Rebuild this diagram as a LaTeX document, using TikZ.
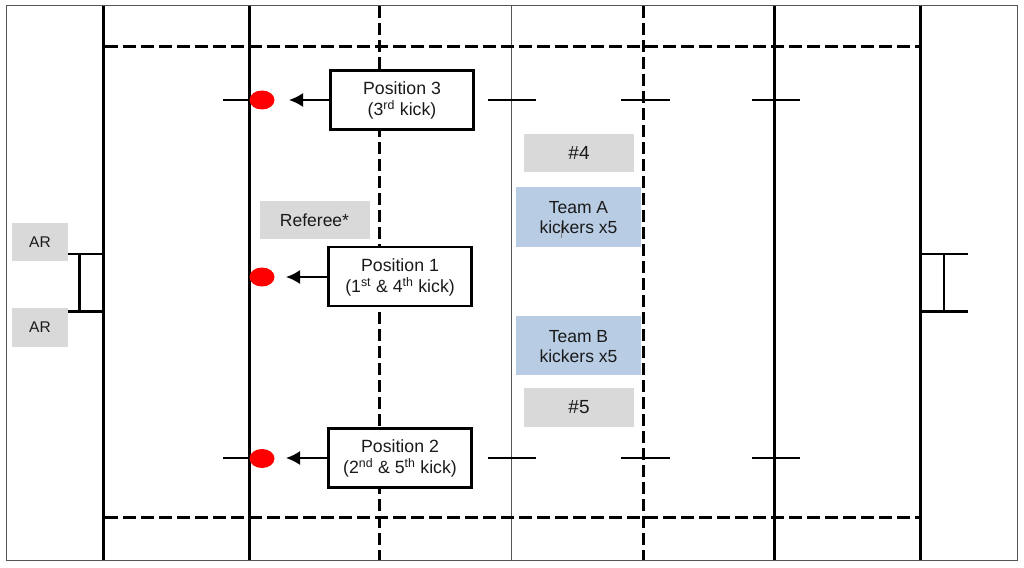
\documentclass[tikz,border=0pt]{standalone}
\usepackage{fontspec}
\setmainfont{Liberation Sans}
\definecolor{tagGrey}{HTML}{D9D9D9}
\definecolor{teamBlue}{HTML}{B8CCE4}
\definecolor{frameGrey}{HTML}{555555}
\definecolor{inkText}{HTML}{1A1A1A}
\newcommand{\sq}[1]{\textsuperscript{#1}}
\newcommand{\dnA}{\rule{0pt}{14pt}}
\newcommand{\dnB}{\rule{0pt}{14.5pt}}
\usetikzlibrary{shapes.geometric,arrows.meta}
\tikzset{
  x=1pt,y=-1pt,
  solidline/.style={line width=3pt,black},
  fieldline/.style={line width=3.4pt,black},
  dashline/.style={line width=3pt,black,dash pattern=on 13pt off 5pt},
  vdash/.style={line width=3pt,black,dash pattern=on 12pt off 5pt},
  tick/.style={line width=1.8pt,black},
  tagbox/.style={fill=tagGrey,inner sep=0pt,text=inkText,font=\fontsize{17.5}{20}\selectfont,align=center,anchor=center},
  numbox/.style={tagbox,font=\fontsize{19}{20}\selectfont},
  arbox/.style={tagbox,font=\fontsize{15.5}{17}\selectfont},
  teambox/.style={fill=teamBlue,inner sep=0pt,text=inkText,font=\fontsize{17.5}{20}\selectfont,align=center,anchor=center,minimum width=125pt,minimum height=60pt},
  posbox/.style={draw=black,line width=2.2pt,fill=white,inner sep=0pt,text=inkText,font=\fontsize{17.7}{21}\selectfont,align=center,anchor=center,minimum width=143pt,minimum height=59pt},
  spot/.style={ellipse,fill=red,draw=none,minimum width=25pt,minimum height=19pt,inner sep=0pt},
  pointer/.style={line width=1.8pt,-{Latex[length=14pt,width=14pt]},shorten >=0pt},
}
\begin{document}
\begin{tikzpicture}
\useasboundingbox (0,0) rectangle (1024,567);
\fill[white] (0,0) rectangle (1024,567);
% verticals
\draw[vdash] (379.5,6) -- (379.5,560);
\draw[vdash] (643.5,6) -- (643.5,560);
\draw[line width=0.9pt,frameGrey] (511.5,6) -- (511.5,560);
\draw[fieldline] (103.5,6) -- (103.5,560);
\draw[solidline] (249,6) -- (249,560);
\draw[solidline] (774,6) -- (774,560);
\draw[solidline] (920,6) -- (920,560);
% horizontals
\draw[dashline] (105,46.5) -- (920,46.5);
\draw[dashline] (105,517.5) -- (920,517.5);
% ticks
\foreach \y in {100,458}{
  \draw[tick] (223,\y) -- (249,\y);
  \draw[tick] (488,\y) -- (536,\y);
  \draw[tick] (621,\y) -- (670,\y);
  \draw[tick] (752,\y) -- (800,\y);
}
% posts
\draw[line width=2.2pt] (68,254) -- (103,254);
\draw[line width=3pt] (68,311) -- (103,311);
\draw[line width=2.2pt] (79.5,254) -- (79.5,311);
\draw[line width=2.2pt] (920,254) -- (968,254);
\draw[line width=3pt] (920,311) -- (968,311);
\draw[line width=2.2pt] (944,254) -- (944,311);
% frame
\draw[line width=1pt,frameGrey] (6.5,5.5) rectangle (1017.5,560);
% tags
\node[arbox,minimum width=56pt,minimum height=38pt] (ar1) at (40,242) {AR};
\node[arbox,minimum width=56pt,minimum height=39pt] (ar2) at (40,327.5) {AR};
\node[tagbox,minimum width=110pt,minimum height=38pt] (ref) at (314.5,220) {Referee*};
\node[numbox,minimum width=110pt,minimum height=38pt] (n4) at (579,153) {\#4};
\node[numbox,minimum width=110pt,minimum height=39pt] (n5) at (579,407.5) {\#5};
\node[teambox] (ta) at (578.5,217) {\dnA Team A\\kickers x5};
\node[teambox,minimum height=59pt] (tb) at (578.5,345.5) {\dnA Team B\\kickers x5};
\fill[gray] (561,224) rectangle (562.4,238);
% positions
\node[posbox] (p3) at (402,100) {\dnB Position 3\\(3\sq{rd} kick)};
\node[posbox] (p1) at (400,276.5) {\dnB Position 1\\(1\sq{st} \& 4\sq{th} kick)};
\node[posbox] (p2) at (400,458) {\dnB Position 2\\(2\sq{nd} \& 5\sq{th} kick)};
% spots
\node[spot] (s3) at (262,100) {};
\node[spot] (s1) at (262,277) {};
\node[spot] (s2) at (262,458.5) {};
% arrows
\coordinate (a3) at (289,100);
\coordinate (a1) at (286,277);
\coordinate (a2) at (286,458);
\draw[pointer] (p3.west) -- (a3);
\draw[pointer] (p1.west |- a1) -- (a1);
\draw[pointer] (p2.west) -- (a2);
\end{tikzpicture}
\end{document}
